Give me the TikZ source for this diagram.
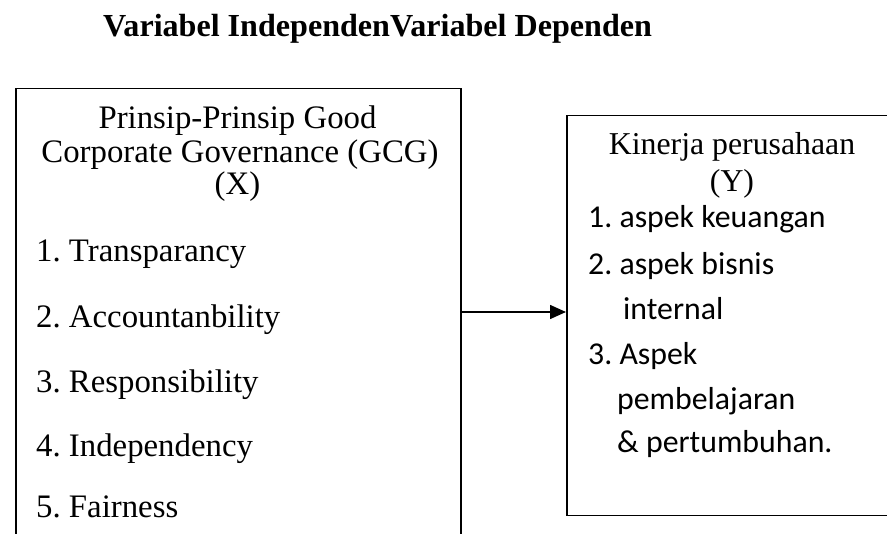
\documentclass[tikz,border=0pt]{standalone}
\usepackage{fontspec}
\setmainfont{Liberation Serif}
\newfontfamily\calfont{Carlito}
\usetikzlibrary{arrows.meta}
\frenchspacing
\begin{document}
\begin{tikzpicture}[x=1pt,y=-1pt,
  boxst/.style={draw=black, line width=1.5pt, rectangle, inner sep=0pt},
  serift/.style={inner sep=0pt, font=\fontsize{32.8}{39}\selectfont},
  calt/.style={inner sep=0pt, font=\calfont\fontsize{31.8}{38}\selectfont},
  titlet/.style={inner sep=0pt, font=\bfseries\fontsize{32.1}{38}\selectfont},
  arrowst/.style={line width=1.5pt, -{Triangle[length=16pt,width=14pt]}}]
\useasboundingbox (0,0) rectangle (887,534);
\clip (0,0) rectangle (887,534);
% title
\node[titlet, anchor=base west] (title) at (103,37) {Variabel IndependenVariabel Dependen};
% boxes
\node[boxst, anchor=north west, minimum width=445pt, minimum height=492pt] (gcg) at (15,88) {};
\node[boxst, anchor=north west, minimum width=400pt, minimum height=400pt] (kin) at (566,115) {};
% left box text
\node[serift, anchor=base] (h1) at (237.5,129) {Prinsip-Prinsip Good};
\node[serift, anchor=base] (h2) at (240,163) {Corporate Governance (GCG)};
\node[serift, anchor=base] (h3) at (237.5,195) {(X)};
\node[serift, anchor=base west] (l1) at (36,262) {1. Transparancy};
\node[serift, anchor=base west] (l2) at (36,328) {2. Accountanbility};
\node[serift, anchor=base west] (l3) at (36,393) {3. Responsibility};
\node[serift, anchor=base west] (l4) at (36,457) {4. Independency};
\node[serift, anchor=base west] (l5) at (36,518) {5. Fairness};
% right box text
\node[serift, anchor=base, font=\fontsize{31.8}{38}\selectfont] (k1) at (732,155) {Kinerja perusahaan};
\node[serift, anchor=base, font=\fontsize{31.8}{38}\selectfont] (k2) at (732,192) {(Y)};
\node[calt, anchor=base west] (r1) at (588,228) {1. aspek keuangan};
\node[calt, anchor=base west] (r2) at (588,275) {2. aspek bisnis};
\node[calt, anchor=base west] (r3) at (623,320) {internal};
\node[calt, anchor=base west] (r4) at (588,365) {3. Aspek};
\node[calt, anchor=base west] (r5) at (617,410) {pembelajaran};
\node[calt, anchor=base west] (r6) at (617,453) {\& pertumbuhan.};
% arrow
\coordinate (ar) at (510,312);
\draw[arrowst] (gcg.east |- ar) -- (kin.west |- ar);
\end{tikzpicture}
\end{document}
